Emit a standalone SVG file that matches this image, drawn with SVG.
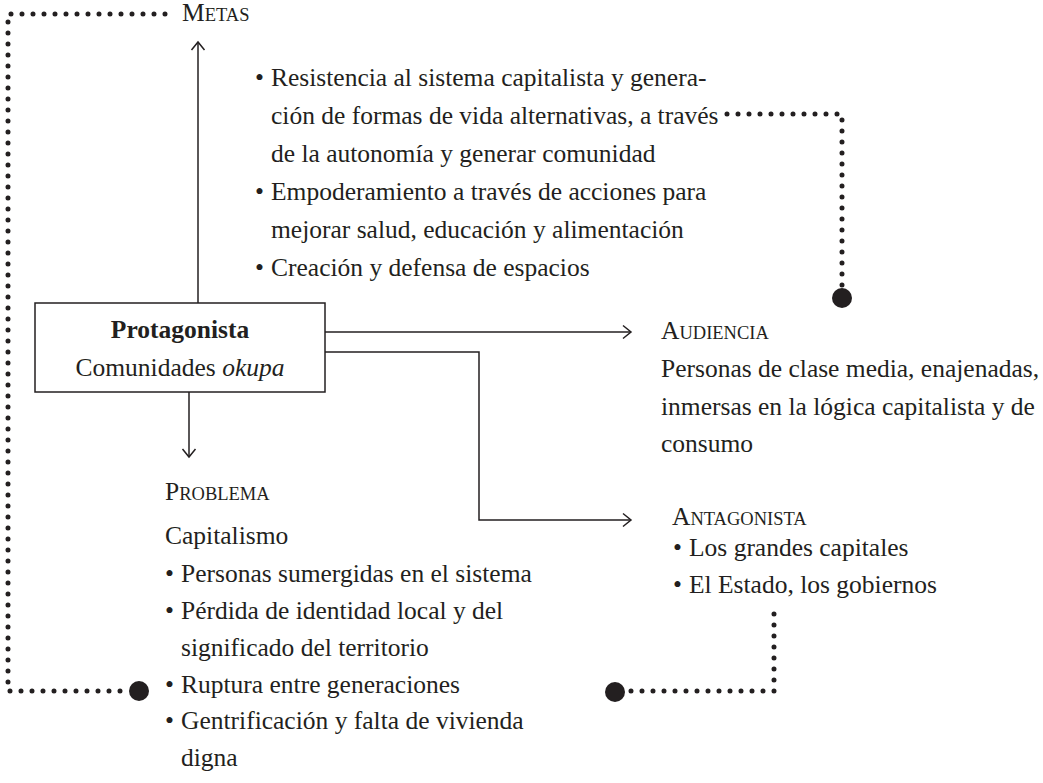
<svg xmlns="http://www.w3.org/2000/svg" width="1043" height="783" viewBox="0 0 1043 783">
<style>
text{font-family:"Liberation Serif","DejaVu Serif",serif;font-size:25.5px;fill:#231f20}
.b{font-weight:bold}
.sc{font-size:18.5px}
.ln{stroke:#231f20;stroke-width:1.5;fill:none}
.dot{stroke:#231f20;stroke-width:5;stroke-linecap:round;stroke-dasharray:0 11;fill:none}
.big{fill:#231f20}
</style>
<defs>
<marker id="ah" viewBox="-10 -8 12 16" markerWidth="12" markerHeight="16" refX="0" refY="0" orient="auto" markerUnits="userSpaceOnUse">
<path d="M -8 -6.5 L 0 0 L -8 6.5" stroke="#231f20" stroke-width="1.5" fill="none"/>
</marker>
</defs>
<g id="connectors">
<path class="ln" d="M 198 303 V 42" marker-end="url(#ah)"/>
<path class="ln" d="M 189 392 V 457" marker-end="url(#ah)"/>
<path class="ln" d="M 325 332 H 631" marker-end="url(#ah)"/>
<path class="ln" d="M 325 352 H 479 V 520 H 631" marker-end="url(#ah)"/>
<path class="dot" d="M 165 14 H 8 V 691 H 128"/>
<circle class="big" cx="139" cy="691" r="10"/>
<path class="dot" d="M 727 114 H 842 V 288"/>
<circle class="big" cx="842" cy="298" r="10"/>
<path class="dot" d="M 774 614 V 691 H 626"/>
<circle class="big" cx="615" cy="692" r="10"/>
</g>
<g id="metas">
<text x="182" y="21">M<tspan class="sc">ETAS</tspan></text>
<text x="255" y="86">•</text>
<text x="271" y="86">Resistencia al sistema capitalista y genera-</text>
<text x="271" y="124">ción de formas de vida alternativas, a través</text>
<text x="271" y="162">de la autonomía y generar comunidad</text>
<text x="255" y="200">•</text>
<text x="271" y="200">Empoderamiento a través de acciones para</text>
<text x="271" y="238">mejorar salud, educación y alimentación</text>
<text x="255" y="276">•</text>
<text x="271" y="276">Creación y defensa de espacios</text>
</g>
<g id="protagonista">
<rect class="ln" x="35" y="303" width="290" height="89"/>
<text class="b" x="180" y="338" text-anchor="middle">Protagonista</text>
<text x="180" y="376" text-anchor="middle">Comunidades <tspan font-style="italic">okupa</tspan></text>
</g>
<g id="audiencia">
<text x="661" y="339">A<tspan class="sc">UDIENCIA</tspan></text>
<text x="661" y="377">Personas de clase media, enajenadas,</text>
<text x="661" y="415">inmersas en la lógica capitalista y de</text>
<text x="661" y="452">consumo</text>
</g>
<g id="problema">
<text x="165" y="500">P<tspan class="sc">ROBLEMA</tspan></text>
<text x="165" y="544">Capitalismo</text>
<text x="165" y="582">•</text>
<text x="181" y="582">Personas sumergidas en el sistema</text>
<text x="165" y="619">•</text>
<text x="181" y="619">Pérdida de identidad local y del</text>
<text x="181" y="656">significado del territorio</text>
<text x="165" y="693">•</text>
<text x="181" y="693">Ruptura entre generaciones</text>
<text x="165" y="729">•</text>
<text x="181" y="729">Gentrificación y falta de vivienda</text>
<text x="181" y="766">digna</text>
</g>
<g id="antagonista">
<text x="672" y="525">A<tspan class="sc">NTAGONISTA</tspan></text>
<text x="673" y="556">•</text>
<text x="689" y="556">Los grandes capitales</text>
<text x="673" y="593">•</text>
<text x="689" y="593">El Estado, los gobiernos</text>
</g>
</svg>
